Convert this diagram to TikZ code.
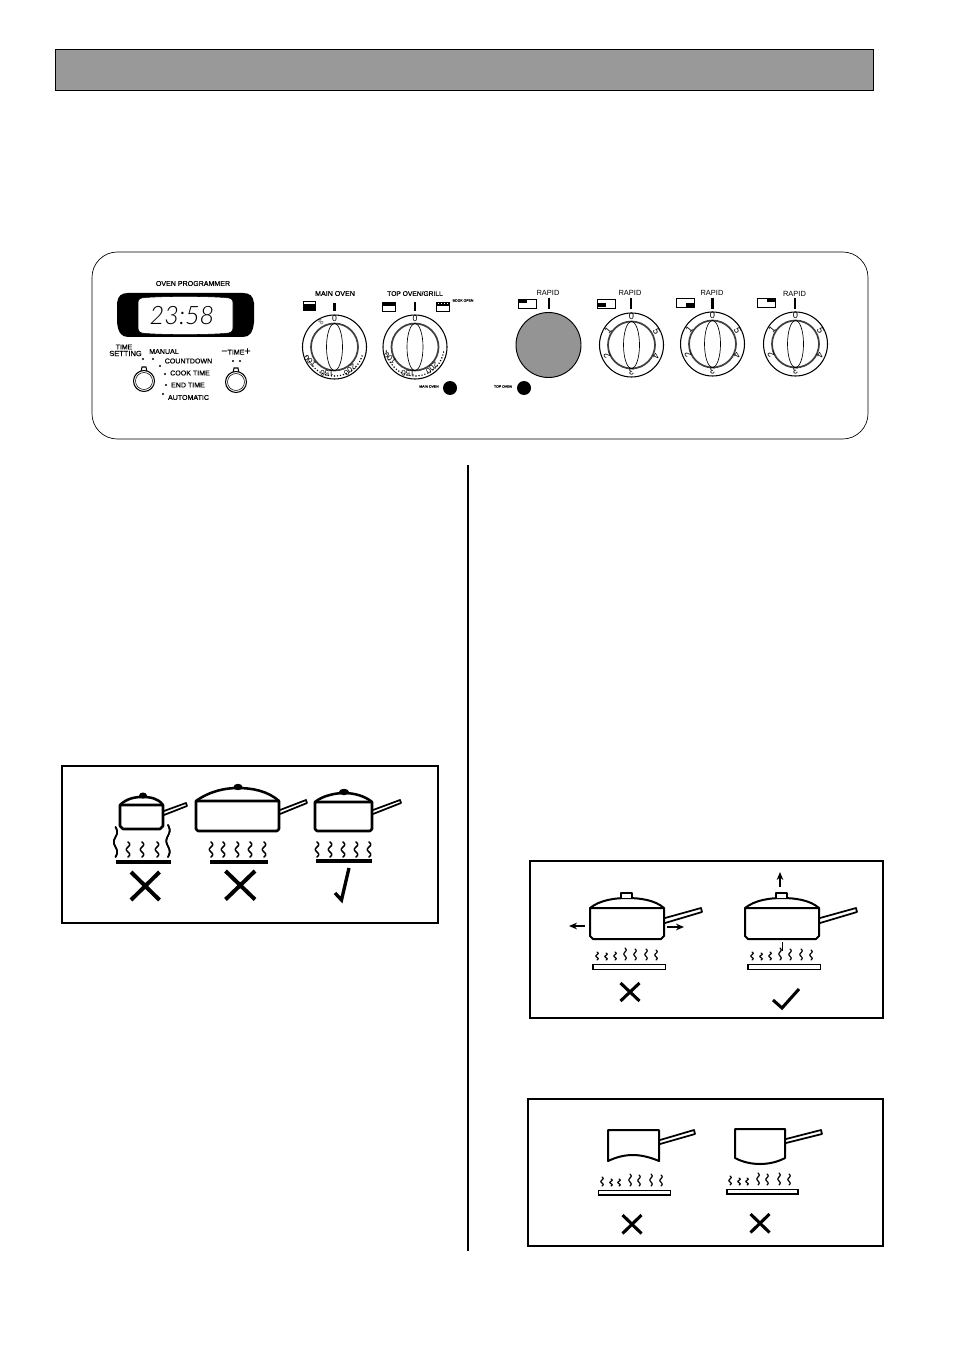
\documentclass[tikz,border=0pt]{standalone}
\usepackage{fontspec}
\usetikzlibrary{arrows.meta}
\setmainfont{Liberation Sans}
\newfontfamily\lcdfont[UprightFont=* Light Italic]{Lato}
\newfontfamily\semib[FakeBold=0.5]{Liberation Sans}
\tikzset{
 x=0.75pt,y=-0.75pt,
 lab/.style={inner sep=0pt,font=\semib\fontsize{5.3}{6}\selectfont},
 rap/.style={inner sep=0pt,font=\fontsize{5.6}{6}\selectfont},
 tiny/.style={inner sep=0pt,font=\semib\fontsize{2.6}{3}\selectfont},
 dialnum/.style={inner sep=0pt,font=\fontsize{7}{7}\selectfont},
 tempnum/.style={inner sep=0pt,font=\fontsize{6}{7}\selectfont},
 frame/.style={draw=black,line width=0.8pt,fill=white},
 potline/.style={line width=1.9pt,line join=round,line cap=round},
 thinpot/.style={line width=1.5pt,line join=round,line cap=round},
 wavy/.style={line width=1.1pt,line cap=round},
 smallwave/.style={line width=0.9pt,line cap=round},
 handle/.style={line width=1.3pt,line join=round},
 cross/.style={line width=2.3pt},
 bigcross/.style={line width=3pt},
 burner/.style={line width=3pt},
 plate/.style={line width=1.1pt,fill=white},
 head/.style={-{Stealth[length=6pt,width=5pt]},line width=0.9pt},
 indicator/.style={line width=1.6pt},
}
\newcommand{\dialbody}[2]{%
 \draw[line width=0.8pt,fill=white] (#1,#2) circle[radius=32];
 \draw[line width=1.3pt,draw=black!75] (#1,#2) circle[radius=23.5];
 \draw[line width=0.5pt] (#1,#2) ellipse[x radius=8,y radius=23.5];
}
\newcommand{\hobdial}[3]{%
 \dialbody{#1}{#2}
 \node[dialnum] (n0#3) at (#1,{#2-28.5}) {0};
 \node[dialnum,rotate=50] (n1#3) at ({#1-23.5},{#2-15}) {1};
 \node[dialnum,rotate=115] (n2#3) at ({#1-24.5},{#2+11}) {2};
 \node[dialnum,rotate=180] (n3#3) at (#1,{#2+27}) {3};
 \node[dialnum,rotate=-115] (n4#3) at ({#1+24.5},{#2+11}) {4};
 \node[dialnum,rotate=-65] (n5#3) at ({#1+25},{#2-13}) {5};
}
\newcommand{\tempticks}[4]{%
 \foreach \a in {#3,...,#4}{%
  \pgfmathparse{int(mod(\a-#3,6))}%
  \ifnum\pgfmathresult=0
  \fill ({#1+29*sin(\a)},{#2-29*cos(\a)}) circle[radius=0.8];
  \fi}%
}
\newcommand{\squig}[4][1]{%
 \draw[wavy] plot[smooth,samples=17,domain=0:1,variable=\t] ({#2+#1*1.7*sin(\t*540)},{#3+\t*#4});
}
\newcommand{\lamp}[4]{%
 \draw[line width=0.5pt,fill=white] (#1,#2) rectangle ({#1+#3},{#2+#4});
}
\begin{document}
\begin{tikzpicture}
\useasboundingbox (0,0) rectangle (954,1351);
\fill[white] (0,0) rectangle (954,1351);
\draw[line width=0.6pt,fill=black!40] (55,49) rectangle (873,90);
\draw[line width=1.5pt] (468,465) -- (468,1251);
\draw[line width=0.5pt,rounded corners=19pt] (92,252) rectangle (868,439);
\node[lab] (prog) at (193,283.5) {OVEN PROGRAMMER};
\fill (117,303) .. controls (118,296) and (121,293) .. (128,293) -- (243,293) .. controls (250,293) and (253,296) .. (254,303) -- (254,322) .. controls (253,332) and (250,337) .. (243,337) -- (128,337) .. controls (121,337) and (118,332) .. (117,322) -- cycle;
\draw[fill=white,line width=0.4pt] (138,303) .. controls (138,299) and (140,298) .. (145,297.5) .. controls (170,296) and (200,296) .. (225,297.5) .. controls (231,298) and (233,299) .. (233,303) -- (233,327) .. controls (233,332) and (231,333) .. (225,333.5) .. controls (200,335) and (170,335) .. (145,333.5) .. controls (140,333) and (138,332) .. (138,327) -- cycle;
\node[inner sep=0pt,font=\lcdfont\fontsize{19}{20}\selectfont] (clock) at (182,316) {23:58};
\node[lab,font=\semib\fontsize{5.2}{5}\selectfont] (t1) at (124,347) {TIME};
\node[lab,font=\semib\fontsize{5.6}{5}\selectfont] (t2) at (125.5,353.5) {SETTING};
\node[lab] (manual) at (164,351.5) {MANUAL};
\node[lab] (count) at (188.5,361) {COUNTDOWN};
\node[lab] (cook) at (190,373) {COOK TIME};
\node[lab] (end) at (188,385) {END TIME};
\node[lab] (auto) at (188.5,397.5) {AUTOMATIC};
\node[lab] (timepm) at (236,351.5) {{\fontsize{8}{6}\selectfont −}TIME{\fontsize{8}{6}\selectfont +}};
\foreach \p in {(143,359),(153,359),(160,366),(165,374),(166,385),(163,394),(233,361),(240,361)}
 \fill \p circle[radius=1.1];
\foreach \cx/\cy in {144/381,236/382}{
 \draw[line width=0.8pt,fill=white] ({\cx-3},{\cy-9}) -- ({\cx-2},{\cy-14}) -- ({\cx+2},{\cy-14}) -- ({\cx+3},{\cy-9});
 \draw[line width=0.8pt,fill=white] (\cx,\cy) circle[radius=10.5];
 \draw[line width=0.4pt] (\cx,\cy) circle[radius=8.5];
}
\node[lab] (mo) at (335,293.5) {MAIN OVEN};
\draw[indicator] (334.5,303) -- (334.5,311);
\lamp{303}{301}{12}{9}
\fill (303,304.5) rectangle (315,310);
\dialbody{334.5}{347}
\node[dialnum,font=\fontsize{6.5}{7}\selectfont] (m0) at (334.5,319) {0};
\node[dialnum,rotate=-40,font=\fontsize{3.6}{4}\selectfont] (mx) at (321,322) {50};
\tempticks{334.5}{347}{108}{252}
\node[tempnum,rotate=-140] (m2) at (350,370) {200};
\node[tempnum,rotate=180] (m1) at (327,373) {150};
\node[tempnum,rotate=140] (m3) at (310,361) {100};
\node[lab,font=\semib\fontsize{5}{6}\selectfont] (to) at (415,293.5) {TOP OVEN/GRILL};
\draw[indicator] (415,302) -- (415,311);
\lamp{382}{302}{13}{9}
\fill (382,302) rectangle (395,306);
\lamp{436}{302}{13}{9}
\fill (436,302) rectangle (449,306);
\foreach \q in {438,441,444,447} \fill[white] (\q,302.6) rectangle (\q+1,304);
\node[tiny] (bo) at (463,300.5) {BOOK OPEN};
\dialbody{415}{347}
\node[dialnum,font=\fontsize{6.5}{7}\selectfont] (t0) at (415,319) {0};
\tempticks{415}{347}{100}{262}
\node[tempnum,rotate=-140] (t3) at (432,368) {200};
\node[tempnum,rotate=180] (t4) at (408,373) {150};
\node[tempnum,rotate=140] (t5) at (390,358) {100};
\node[tiny] (ms) at (429,386.5) {MAIN OVEN};
\fill (450,388) circle[radius=7];
\node[tiny] (ts) at (503,386.5) {TOP OVEN};
\fill (524,388) circle[radius=7];
\node[rap] (r1) at (548,293) {RAPID};
\draw[indicator] (549,298) -- (549,309);
\lamp{518.5}{299}{18}{9}
\fill (519,299.5) rectangle (527,303.5);
\draw[line width=0.7pt,fill=black!42] (548.5,345) circle[radius=32.5];
\node[rap] (r2) at (630,293) {RAPID};
\draw[indicator] (631,298) -- (631,309);
\lamp{597.5}{299}{18}{9}
\fill (598,303.5) rectangle (606,307.5);
\hobdial{631.5}{345}{a}
\node[rap] (r3) at (712,293) {RAPID};
\draw[indicator] (712.5,298) -- (712.5,309);
\lamp{676.5}{298}{18}{9}
\fill (686,303) rectangle (694,307);
\hobdial{712.5}{344}{b}
\node[rap] (r4) at (794.5,294) {RAPID};
\draw[indicator] (795,298) -- (795,309);
\lamp{757.5}{298}{18}{9}
\fill (767,298.5) rectangle (775,302.5);
\hobdial{795.5}{344}{c}
\draw[frame] (62,766) rectangle (438,923);
\draw[potline] (120,805) .. controls (127,798) and (136,797) .. (142,797) .. controls (150,797) and (158,798) .. (163,805);
\draw[potline,fill=white] (120,805) -- (163,805) -- (163,826) -- (160,829) -- (123,829) -- (120,826) -- cycle;
\fill (143,795.5) ellipse[x radius=4,y radius=3];
\draw[handle] (164,811) -- (186,803) -- (187,806) -- (164,815);
\foreach \x in {128,142,157} \squig{\x}{842}{15}
\squig{115.5}{827}{30}
\squig{168}{825}{32}
\draw[burner] (116,862) -- (171,862);
\draw[bigcross] (131,872) -- (159.5,900) (159.5,872) -- (131,900);
\draw[potline] (196,801) .. controls (210,791) and (225,788) .. (238,788) .. controls (252,788) and (268,791) .. (279,801);
\draw[potline,fill=white] (196,801) -- (279,801) -- (279,829) -- (277,831) -- (198,831) -- (196,829) -- cycle;
\fill (238,787) ellipse[x radius=4.5,y radius=3.2];
\draw[handle] (280,810) -- (306,800) -- (307,803) -- (280,814);
\foreach \x in {211,223,237,250,264} \squig{\x}{842}{15}
\draw[burner] (210,861.5) -- (268,861.5);
\draw[bigcross] (225.5,871) -- (255,899.5) (255,871) -- (225.5,899.5);
\draw[potline] (315,802) .. controls (322,796) and (335,793) .. (344,793) .. controls (354,793) and (365,796) .. (372,802);
\draw[potline,fill=white] (315,802) -- (372,802) -- (372,829) -- (370,831) -- (317,831) -- (315,829) -- cycle;
\fill (344,792) ellipse[x radius=5,y radius=3.2];
\draw[handle] (373,810) -- (400,800) -- (401,803) -- (373,814);
\foreach \x in {317,330,343,356,369} \squig{\x}{842}{15}
\draw[burner] (316,861) -- (372,861);
\draw[line width=2.5pt,line join=miter] (335,893) -- (341.5,900) -- (349,868);
\draw[frame] (530,861) rectangle (883,1018);
\foreach \dx in {0,155}{
 \begin{scope}[xshift=\dx*0.75pt]
 \draw[thinpot] (590,908) .. controls (600,900) and (615,898) .. (627,898) .. controls (640,898) and (655,900) .. (664,908);
 \draw[thinpot,fill=white] (621,898) -- (621,892.5) -- (632,892.5) -- (632,898);
 \draw[thinpot,fill=white] (590,908) -- (664,908) -- (664,936) -- (661,939) -- (593,939) -- (590,936) -- cycle;
 \draw[handle] (665,918) -- (701,908) -- (702,912) -- (665,923);
 \draw[plate] (593,964.5) rectangle (665.5,969.5);
 \foreach \x/\y in {597/952,606/953,615/952,625/948,635/949,646/949,656/950} \draw[smallwave] plot[smooth,samples=13,domain=0:1,variable=\t] ({\x+1.2*sin(\t*540)},{\y+\t*(960-\y)});
 \end{scope}
}
\draw[head] (585,926) -- (569,926);
\draw[head] (667,927) -- (684,927);
\draw[head] (780,887) -- (780,872);
\draw[line width=0.7pt] (782,942) -- (782,951);
\draw[cross] (620.5,983) -- (639.5,1001) (639.5,983) -- (620.5,1001);
\draw[cross,line join=miter] (773,1000) -- (782,1008) -- (799,989);
\draw[frame] (528,1099) rectangle (883,1246);
\draw[thinpot] (608,1130) -- (659,1130) -- (659,1161) .. controls (640,1153) and (625,1153) .. (608,1161) -- cycle;
\draw[handle] (660,1140) -- (694,1130) -- (695,1134) -- (660,1144);
\draw[plate] (598.5,1190.5) rectangle (670.5,1195);
\foreach \x/\y in {602/1177,611/1179,619/1179,630/1174,639/1175,651/1174,661/1175} \draw[smallwave] plot[smooth,samples=13,domain=0:1,variable=\t] ({\x+1.2*sin(\t*540)},{\y+\t*(1186-\y)});
\draw[cross] (622.5,1215) -- (641.5,1233.5) (641.5,1215) -- (622.5,1233.5);
\draw[thinpot] (735,1129) -- (785,1129) -- (785,1158) .. controls (770,1166) and (750,1166) .. (735,1158) -- cycle;
\draw[handle] (786,1139) -- (821,1130) -- (822,1134) -- (786,1143);
\draw[plate] (727,1189.5) rectangle (798,1194);
\foreach \x/\y in {730/1176,739/1178,747/1178,758/1173,767/1174,779/1173,789/1174} \draw[smallwave] plot[smooth,samples=13,domain=0:1,variable=\t] ({\x+1.2*sin(\t*540)},{\y+\t*(1185-\y)});
\draw[cross] (750.5,1214) -- (769.5,1232.5) (769.5,1214) -- (750.5,1232.5);
\end{tikzpicture}
\end{document}
